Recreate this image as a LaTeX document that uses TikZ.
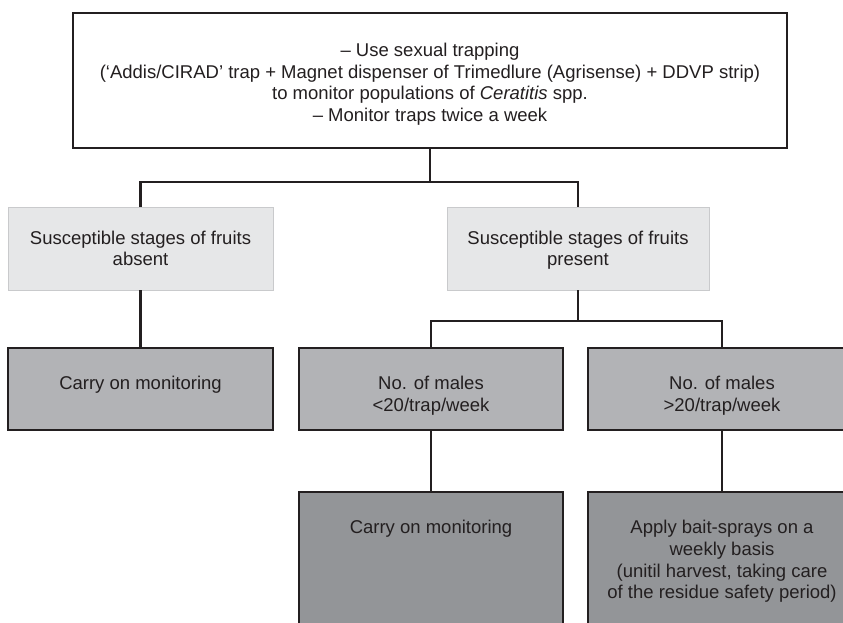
\documentclass[tikz,border=0pt]{standalone}
\usepackage{fontspec}
\setmainfont{Liberation Sans}
\usetikzlibrary{positioning}

\definecolor{inkgrey}{HTML}{231F20}
\definecolor{palegrey}{HTML}{E6E7E8}
\definecolor{palerule}{HTML}{C9CACC}
\definecolor{midgrey}{HTML}{B2B3B6}
\definecolor{darkgrey}{HTML}{939598}

\tikzset{
  topbox/.style={draw=inkgrey, line width=2pt, fill=white, minimum width=714pt, minimum height=135pt, inner sep=0pt},
  palebox/.style={draw=palerule, line width=0.8pt, fill=palegrey, minimum height=83pt, inner sep=0pt},
  greybox/.style={draw=inkgrey, line width=2pt, fill=midgrey, minimum height=82pt, inner sep=0pt},
  darkbox/.style={draw=inkgrey, line width=2pt, fill=darkgrey, minimum height=150pt, inner sep=0pt},
  boxtext/.style={inner sep=0pt, align=center, text=inkgrey, font=\fontsize{18.5}{21.8}\selectfont},
  link/.style={draw=inkgrey, line width=2.2pt}
}

\begin{document}
\begin{tikzpicture}[x=1pt, y=-1pt]
    \useasboundingbox (0,0) rectangle (843,622);
    \clip (0,0) rectangle (843,622);

    % Monitoring box
    \node[topbox] (top) at (430,80.5) {};
    \node[boxtext, below=30.6pt of top.north] (toptext)
      {– Use sexual trapping\\
       (‘Addis/CIRAD’ trap + Magnet dispenser of Trimedlure (Agrisense) + DDVP strip)\\
       to monitor populations of \textit{Ceratitis} spp.\\
       – Monitor traps twice a week};

    % Fruit stages
    \node[palebox, minimum width=265pt] (absent) at (140.5,248.5) {};
    \node[boxtext, below=23.8pt of absent.north] (absenttext)
      {Susceptible stages of fruits\\absent};
    \node[palebox, minimum width=262pt] (present) at (578,248.5) {};
    \node[boxtext, below=23.8pt of present.north] (presenttext)
      {Susceptible stages of fruits\\present};

    % Trap counts
    \node[greybox, minimum width=265pt] (keepon) at (140.5,389) {};
    \node[boxtext, below=28.8pt of keepon.north] (keepontext)
      {Carry on monitoring};
    \node[greybox, minimum width=264pt] (fewmales) at (431,389) {};
    \node[boxtext, below=28.8pt of fewmales.north] (fewmalestext)
      {No. of males\\<20/trap/week};
    \node[greybox, minimum width=268pt] (manymales) at (722,389) {};
    \node[boxtext, below=28.8pt of manymales.north] (manymalestext)
      {No. of males\\>20/trap/week};

    % Actions
    \node[darkbox, minimum width=264pt] (stillmonitor) at (431,567) {};
    \node[boxtext, below=28.8pt of stillmonitor.north] (stillmonitortext)
      {Carry on monitoring};
    \node[darkbox, minimum width=268pt] (spray) at (722,567) {};
    \node[boxtext, below=28.8pt of spray.north] (spraytext)
      {Apply bait-sprays on a\\
       weekly basis\\
       (unitil harvest, taking care\\
       of the residue safety period)};

    % Connectors
    \coordinate (fork1) at (430,182);
    \coordinate (fork2) at (578,321);
    \draw[link] (top.south) -- (fork1);
    \draw[link] (absent.north) |- (fork1) -| (present.north);
    \draw[link] (absent.south) -- (keepon.north);
    \draw[link] (present.south) -- (fork2);
    \draw[link] (fewmales.north) |- (fork2) -| (manymales.north);
    \draw[link] (fewmales.south) -- (stillmonitor.north);
    \draw[link] (manymales.south) -- (spray.north);
\end{tikzpicture}
\end{document}
